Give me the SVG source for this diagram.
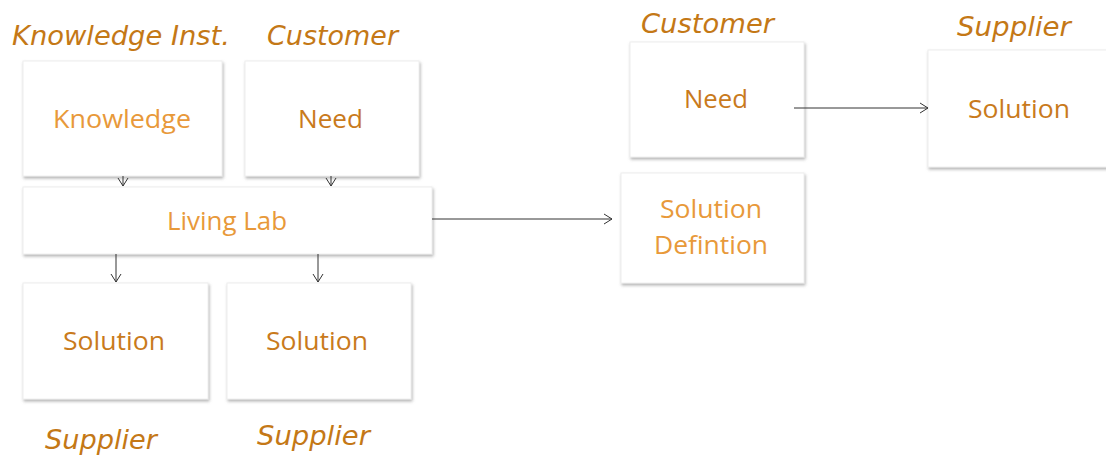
<svg xmlns="http://www.w3.org/2000/svg" width="1106" height="457" viewBox="0 0 1106 457">
<style>
.box{fill:#fff;stroke:#eeeeee;stroke-width:1;filter:url(#sh)}
.t{font-family:"Open Sans","Noto Sans",sans-serif;font-size:25px}
.lt{fill:#e8993a}
.dk{fill:#c97a1c}
.role{font-family:"DejaVu Sans",Verdana,sans-serif;font-style:italic;font-size:26px;fill:#c47816}
.c{stroke:#333;stroke-width:1;fill:none;marker-end:url(#ah)}
</style>
<defs>
<filter id="sh" x="-10%" y="-10%" width="125%" height="130%">
<feDropShadow dx="1" dy="2" stdDeviation="1.5" flood-color="#777" flood-opacity="0.55"/>
</filter>
<marker id="ah" markerWidth="12" markerHeight="12" refX="10" refY="6" orient="auto" markerUnits="userSpaceOnUse">
<path d="M2,1 L10,6 L2,11" fill="none" stroke="#333" stroke-width="1"/>
</marker>
</defs>
<rect width="1106" height="457" fill="#fff"/>

<g id="roles">
<text class="role" x="12" y="45" textLength="218" lengthAdjust="spacingAndGlyphs">Knowledge Inst.</text>
<text class="role" x="267" y="45" textLength="131" lengthAdjust="spacingAndGlyphs">Customer</text>
<text class="role" x="641" y="33" textLength="133" lengthAdjust="spacingAndGlyphs">Customer</text>
<text class="role" x="957" y="36" textLength="114" lengthAdjust="spacingAndGlyphs">Supplier</text>
<text class="role" x="45" y="449" textLength="112" lengthAdjust="spacingAndGlyphs">Supplier</text>
<text class="role" x="257" y="445" textLength="113" lengthAdjust="spacingAndGlyphs">Supplier</text>
</g>

<g id="knowledge"><rect class="box" x="23" y="61" width="199" height="115"/><text class="t lt" x="53" y="128" textLength="138" lengthAdjust="spacingAndGlyphs">Knowledge</text></g>
<g id="need1"><rect class="box" x="245" y="61" width="174" height="115"/><text class="t dk" x="298" y="128" textLength="65" lengthAdjust="spacingAndGlyphs">Need</text></g>
<g id="livinglab"><rect class="box" x="23" y="187" width="409" height="67"/><text class="t lt" x="167" y="230" textLength="120" lengthAdjust="spacingAndGlyphs">Living Lab</text></g>
<g id="solution1"><rect class="box" x="23" y="283" width="185" height="116"/><text class="t dk" x="63" y="350" textLength="102" lengthAdjust="spacingAndGlyphs">Solution</text></g>
<g id="solution2"><rect class="box" x="227" y="283" width="184" height="116"/><text class="t dk" x="266" y="350" textLength="102" lengthAdjust="spacingAndGlyphs">Solution</text></g>
<g id="need2"><rect class="box" x="630" y="42" width="174" height="115"/><text class="t dk" x="684" y="108" textLength="64" lengthAdjust="spacingAndGlyphs">Need</text></g>
<g id="soldef"><rect class="box" x="621" y="173" width="183" height="110"/><text class="t lt" x="660" y="218" textLength="102" lengthAdjust="spacingAndGlyphs">Solution</text><text class="t lt" x="654" y="254" textLength="114" lengthAdjust="spacingAndGlyphs">Defintion</text></g>
<g id="solution3"><rect class="box" x="928" y="50" width="185" height="117"/><text class="t dk" x="968" y="118" textLength="102" lengthAdjust="spacingAndGlyphs">Solution</text></g>

<g id="connectors">
<path class="c" d="M123,176 L123,186"/>
<path class="c" d="M331,176 L331,186"/>
<path class="c" d="M116,254 L116,282"/>
<path class="c" d="M318,254 L318,282"/>
<path class="c" d="M432,219 L612,219"/>
<path class="c" d="M794,108 L928,108"/>
</g>
</svg>
